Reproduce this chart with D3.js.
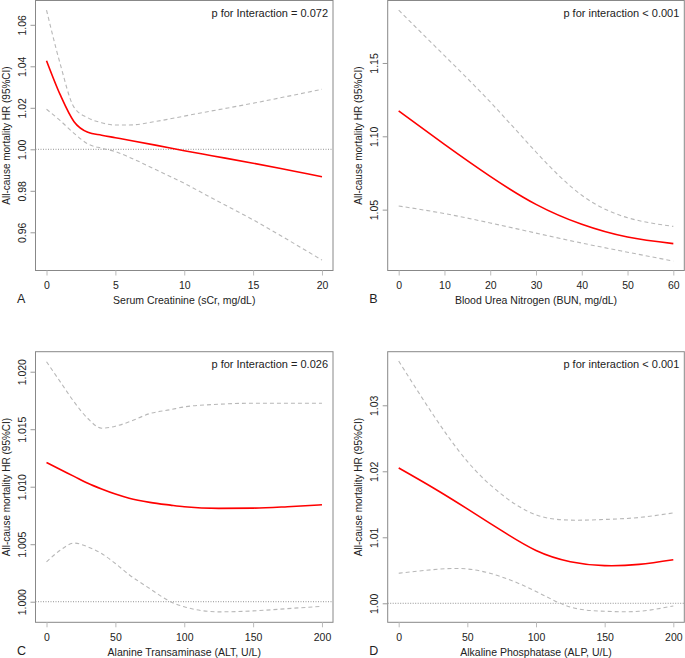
<!DOCTYPE html>
<html>
<head>
<meta charset="utf-8">
<script src="https://cdn.jsdelivr.net/npm/d3@7"></script>
<style>
body{margin:0;background:#fff;}
text{font-family:"Liberation Sans",Arial,sans-serif;fill:#222;}
</style>
</head>
<body>
<div id="chart"></div>
<script>
// panel A - serum creatinine
var aX     = [0, 1, 2, 3, 4, 5, 6, 8, 10, 12, 15, 18, 20];
var aHR    = [1.0427, 1.0262, 1.0133, 1.0082, 1.0068, 1.0056, 1.0044, 1.0019, 0.9993, 0.9969, 0.9933, 0.9894, 0.9868];
var aUpper = [1.0671, 1.0410, 1.0202, 1.0152, 1.0128, 1.0117, 1.0117, 1.0135, 1.0160, 1.0185, 1.0222, 1.0262, 1.0289];
var aLower = [1.0193, 1.0138, 1.0077, 1.0026, 1.0005, 0.9989, 0.9962, 0.9900, 0.9836, 0.9765, 0.9660, 0.9545, 0.9466];
var aXTicks = [0, 5, 10, 15, 20];
var aYTicks = [0.96, 0.98, 1.00, 1.02, 1.04, 1.06];

// panel B - BUN
var bX     = [0, 10, 20, 30, 40, 50, 60];
var bHR    = [1.1173, 1.0945, 1.0727, 1.0536, 1.0400, 1.0313, 1.0268];
var bUpper = [1.1860, 1.1550, 1.1234, 1.0893, 1.0598, 1.0445, 1.0386];
var bLower = [1.0525, 1.0473, 1.0409, 1.0340, 1.0272, 1.0210, 1.0149];
var bXTicks = [0, 10, 20, 30, 40, 50, 60];
var bYTicks = [1.05, 1.10, 1.15];

// panel C - ALT
var cX     = [0, 10, 20, 30, 40, 50, 60, 75, 90, 100, 125, 150, 175, 200];
var cHR    = [1.0121, 1.0115, 1.0109, 1.0103, 1.0098, 1.00936, 1.0090, 1.00864, 1.0084, 1.00826, 1.00812, 1.00814, 1.00826, 1.00843];
var cUpper = [1.02087, 1.01912, 1.01738, 1.01593, 1.01509, 1.01526, 1.01564, 1.01636, 1.0167, 1.01694, 1.01717, 1.01726, 1.01726, 1.01726];
var cLower = [1.00346, 1.00448, 1.00510, 1.00477, 1.00419, 1.00332, 1.00235, 1.00114, 1.0000, 0.99956, 0.99912, 0.99920, 0.99940, 0.99960];
var cXTicks = [0, 50, 100, 150, 200];
var cYTicks = [1.000, 1.005, 1.010, 1.015, 1.020];

// panel D - ALP
var dX     = [0, 25, 50, 75, 100, 125, 150, 175, 200];
var dHR    = [1.0205, 1.0175, 1.0143, 1.0110, 1.0080, 1.0063, 1.0057, 1.0059, 1.0066];
var dUpper = [1.0367, 1.0286, 1.0215, 1.0165, 1.0134, 1.0126, 1.0127, 1.0130, 1.0137];
var dLower = [1.00455, 1.0051, 1.0052, 1.0040, 1.0018, 0.99944, 0.99879, 0.99879, 0.9996];
var dXTicks = [0, 50, 100, 150, 200];
var dYTicks = [1.00, 1.01, 1.02, 1.03];

var W = 685, H = 658;
var svg = d3.select('#chart').append('svg').attr('width', W).attr('height', H);

var panels = [
	{x:aX, hr:aHR, up:aUpper, lo:aLower, xt:aXTicks, yt:aYTicks, fmt:'.2f', curve:d3.curveMonotoneX,
	 box:[35.5, 0.5, 333, 270.5], xd:[-0.8, 20.8], yd:[0.94159, 1.07171],
	 xlab:'Serum Creatinine (sCr, mg/dL)', p:'p for Interaction = 0.072', letter:'A'},
	{x:bX, hr:bHR, up:bUpper, lo:bLower, xt:bXTicks, yt:bYTicks, fmt:'.2f', curve:d3.curveNatural,
	 box:[387.7, 0.5, 684.3, 270.5], xd:[-2.4, 62.4], yd:[1.0085, 1.1926],
	 xlab:'Blood Urea Nitrogen (BUN, mg/dL)', p:'p for interaction < 0.001', letter:'B'},
	{x:cX, hr:cHR, up:cUpper, lo:cLower, xt:cXTicks, yt:cYTicks, fmt:'.3f', curve:d3.curveMonotoneX,
	 box:[35.5, 351.7, 333, 622.3], xd:[-8, 208], yd:[0.99821, 1.02174],
	 xlab:'Alanine Transaminase (ALT, U/L)', p:'p for Interaction = 0.026', letter:'C'},
	{x:dX, hr:dHR, up:dUpper, lo:dLower, xt:dXTicks, yt:dYTicks, fmt:'.2f', curve:d3.curveNatural,
	 box:[387.7, 351.7, 684.3, 622.3], xd:[-8, 208], yd:[0.99712, 1.03812],
	 xlab:'Alkaline Phosphatase (ALP, U/L)', p:'p for interaction < 0.001', letter:'D'}
];

panels.forEach(function(P){
	var L = P.box[0], T = P.box[1], R = P.box[2], B = P.box[3];
	var x = d3.scaleLinear().domain(P.xd).range([L, R]);
	var y = d3.scaleLinear().domain(P.yd).range([B, T]);
	var g = svg.append('g');

	// reference line at HR = 1
	if (P.yd[0] < 1) {
		g.append('line').attr('x1', L).attr('x2', R).attr('y1', y(1)).attr('y2', y(1))
			.style('stroke', '#777').style('stroke-width', 0.8).style('stroke-dasharray', '1,1.5');
	}

	var pts = function(arr){ return P.x.map(function(v, i){ return [v, arr[i]]; }); };
	var line = d3.line().x(function(d){ return x(d[0]); }).y(function(d){ return y(d[1]); })
		.curve(P.curve);

	[P.up, P.lo].forEach(function(s){
		g.append('path').attr('d', line(pts(s))).style('fill', 'none')
			.style('stroke', '#b8b8b8').style('stroke-width', 1.1).style('stroke-dasharray', '4,3');
	});
	g.append('path').attr('d', line(pts(P.hr))).style('fill', 'none')
		.style('stroke', '#ff0000').style('stroke-width', 1.6);

	// box
	g.append('rect').attr('x', L).attr('y', T).attr('width', R - L).attr('height', B - T)
		.style('fill', 'none').style('stroke', '#888').style('stroke-width', 1);

	// x axis
	var xa = g.append('g').attr('transform', 'translate(0,' + B + ')')
		.call(d3.axisBottom(x).tickValues(P.xt).tickSize(5).tickPadding(6).tickFormat(d3.format('d')));
	xa.select('.domain').remove();
	xa.selectAll('line').style('stroke', '#bbb');
	xa.selectAll('text').style('font-size', '10.5px').style('fill', '#222')
		.style('font-family', '"Liberation Sans",Arial,sans-serif');

	// y axis with rotated labels
	var ya = g.append('g').attr('transform', 'translate(' + L + ',0)')
		.call(d3.axisLeft(y).tickValues(P.yt).tickSize(5).tickFormat(d3.format(P.fmt)));
	ya.select('.domain').remove();
	ya.selectAll('line').style('stroke', '#999');
	ya.selectAll('text').attr('x', 0).attr('dy', 0).attr('text-anchor', 'middle')
		.attr('transform', 'translate(-9.5,0) rotate(-90)')
		.style('font-size', '10.5px').style('fill', '#222')
		.style('font-family', '"Liberation Sans",Arial,sans-serif');

	// titles
	g.append('text').attr('x', (L + R) / 2).attr('y', B + 33.5).attr('text-anchor', 'middle')
		.style('font-size', '10.5px').text(P.xlab);
	g.append('text').attr('transform', 'translate(' + (L - 25.5) + ',' + ((T + B) / 2) + ') rotate(-90)')
		.attr('text-anchor', 'middle').style('font-size', '10px').text('All-cause mortality HR (95%CI)');
	g.append('text').attr('x', R - 5).attr('y', T + 16.5).attr('text-anchor', 'end')
		.style('font-size', '11px').text(P.p);
	g.append('text').attr('x', L - 18.5).attr('y', B + 32.5).style('font-size', '12.5px').text(P.letter);
});
</script>
</body>
</html>
